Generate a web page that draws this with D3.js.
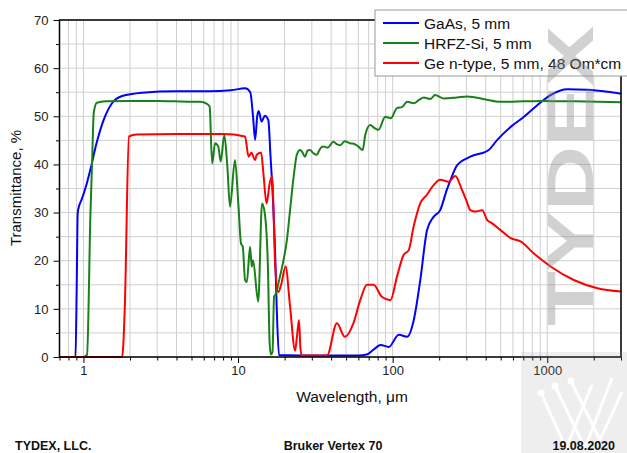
<!DOCTYPE html>
<meta charset="utf-8">
<style>
body { margin: 0; background: #fff; }
text { font-family: "Liberation Sans", Arial, sans-serif; }
.grid line { stroke: #cfcfcf; stroke-width: 1; }
.axis text { font-size: 13px; fill: #222; }
.axis path, .axis line { stroke: #000; }
.curve { fill: none; stroke-width: 2; stroke-linejoin: round; }
.foot { font-size: 12.5px; font-weight: bold; fill: #111; }
</style>
<body>
<script src="https://cdn.jsdelivr.net/npm/d3@7"></script>
<script>

var width = 627, height = 453;

// GaAs, 5 mm
var gaasWl = [0.7, 0.86, 0.888, 0.905, 0.918, 0.94, 0.97, 1.05, 1.12, 1.2, 1.35, 1.53, 1.78, 2.4, 4, 6.5, 9, 11.1, 12.0, 12.5, 12.9, 13.3, 13.6, 14.2, 14.9, 15.7, 16.2, 16.8, 17.4, 17.8, 18.4, 25, 40, 60, 68, 75, 83.5, 94.4, 109.5, 124, 137, 151, 167, 184, 203, 224, 237, 261, 318, 418, 475, 580, 707, 862, 1051, 1352, 1819, 2450, 3000];
var gaasT  = [0, 0, 0, 15, 29.9, 31.5, 32.6, 36, 39.5, 43.7, 49.2, 52.7, 54.2, 54.9, 55.2, 55.2, 55.4, 55.8, 55.0, 50, 45.1, 50, 51.1, 48.9, 50.1, 49.2, 42, 33, 21, 10, 0.4, 0.3, 0.3, 0.3, 0.5, 1.5, 2.5, 2.1, 4.6, 4.2, 7.7, 16, 26.4, 29.1, 30.5, 34.7, 36.8, 39.8, 41.6, 43, 45.1, 47.8, 49.9, 52.3, 54.4, 55.6, 55.5, 55.1, 54.7];

// HRFZ-Si, 5 mm
var siWl = [0.7, 1.0, 1.055, 1.11, 1.137, 1.166, 1.22, 1.4, 2, 3, 5.03, 5.68, 6.3, 6.55, 6.8, 7.1, 7.45, 7.72, 8.15, 8.53, 8.87, 9.55, 10.04, 10.45, 10.73, 11.1, 11.4, 11.96, 12.26, 12.5, 13.5, 14.3, 14.9, 15.6, 16.0, 16.3, 16.7, 17.1, 17.6, 18.3, 19.5, 20.7, 21.7, 22.9, 24.0, 25.2, 26.0, 27.1, 28.2, 29.2, 30.8, 32.3, 34.0, 35.6, 38, 41.4, 43.5, 45.8, 49, 53, 57, 60, 64, 66.5, 71.7, 76, 81, 89.6, 97.5, 106.6, 115, 124, 137, 148, 159, 175, 188, 215, 261, 303, 400, 497, 700, 905, 1500, 3000];
var siT  = [0, 0, 0.5, 29.9, 40.3, 50.7, 52.8, 53.1, 53.2, 53.2, 53.0, 53.0, 52.6, 52, 40.2, 44.4, 43.7, 40.6, 46.1, 39.5, 31.2, 40.9, 31.9, 23.6, 22.9, 16, 15.6, 22.9, 18.8, 20.1, 11.5, 31.9, 29.8, 18.8, 3, 0.5, 1, 12.5, 13.2, 15.5, 19.5, 24.3, 30.5, 37.5, 42, 43, 42.6, 41.6, 42.9, 43, 42.3, 42, 43.3, 43.7, 43.5, 44.7, 44.2, 44, 44.8, 44.4, 44.2, 43.7, 43, 46.1, 48.2, 47.6, 47.2, 49.9, 49.6, 51.7, 51.9, 53, 52.7, 53.4, 53.9, 53.6, 54.4, 53.7, 53.9, 54.1, 53.5, 53.0, 53.1, 53.2, 53.1, 52.9];

// Ge n-type, 5 mm, 48 Om*cm
var geWl = [0.7, 1.78, 1.85, 1.97, 2.2, 4, 8, 11.1, 11.7, 12.2, 12.9, 13.2, 14.1, 14.6, 15.3, 16.0, 16.6, 17.4, 18.2, 19.0, 20.3, 21.7, 23.4, 24.0, 24.8, 25.3, 25.8, 30, 37.6, 43.6, 49.1, 55.7, 61.7, 68.2, 75.3, 85.1, 96.7, 106.7, 117.7, 127, 136.7, 150.9, 166.7, 184, 203, 230, 254, 281, 300, 318, 343, 380, 408, 438, 497, 580, 672, 820, 1051, 1485, 2112, 3000];
var geT  = [0, 0, 10, 45.8, 46.2, 46.3, 46.3, 45.8, 41.6, 42.4, 40.9, 42.0, 42.5, 38, 31.9, 36, 37.5, 18.8, 13.5, 15, 18.8, 10.5, 1.3, 4, 7.7, 2, 0.3, 0.3, 0.3, 7.0, 4.2, 7.0, 11.8, 15, 15, 12.5, 11.8, 16.7, 21.2, 22.2, 27.1, 31.9, 33.7, 35.7, 36.8, 36.4, 37.6, 34.7, 32.5, 30.5, 30.2, 30.5, 28.5, 27.8, 26.4, 24.7, 24, 21.5, 18.8, 16, 14.3, 13.6];

var seriesNames = ["GaAs, 5 mm", "HRFZ-Si, 5 mm", "Ge n-type, 5 mm, 48 Om*cm"];
var seriesColors = ["#0000ff", "#1a801a", "#ff0000"];

var xMajor = [1, 10, 100, 1000];
var yMajor = [0, 10, 20, 30, 40, 50, 60, 70];

var series = [
  {name: seriesNames[0], color: seriesColors[0], pts: d3.zip(gaasWl, gaasT)},
  {name: seriesNames[1], color: seriesColors[1], pts: d3.zip(siWl, siT)},
  {name: seriesNames[2], color: seriesColors[2], pts: d3.zip(geWl, geT)}
];

var x = d3.scaleLog().domain([0.7, 3000]).range([59.5, 621]);
var y = d3.scaleLinear().domain([0, 70]).range([357, 20]);

// every minor tick on the log axis
var xTicks = [0.7, 0.8, 0.9];
[1, 10, 100, 1000].forEach(function(d) {
  for (var k = 1; k <= 9; k++) if (d * k <= 3000) xTicks.push(d * k);
});
var yTicks = d3.range(0, 71, 5);

var svg = d3.select("body").append("svg")
    .attr("width", width)
    .attr("height", height);

// grid
var grid = svg.append("g").attr("class", "grid");
grid.selectAll(".vx").data(xTicks).enter().append("line")
    .attr("x1", function(d) { return x(d); }).attr("x2", function(d) { return x(d); })
    .attr("y1", y(70)).attr("y2", y(0));
grid.selectAll(".hy").data(yTicks).enter().append("line")
    .attr("x1", x(0.7)).attr("x2", x(3000))
    .attr("y1", function(d) { return y(d); }).attr("y2", function(d) { return y(d); });

// curves
var line = d3.line()
    .x(function(d) { return x(d[0]); })
    .y(function(d) { return y(d[1]); })
    .curve(d3.curveMonotoneX);

svg.selectAll(".curve").data(series).enter().append("path")
    .attr("class", "curve")
    .attr("stroke", function(d) { return d.color; })
    .attr("d", function(d) { return line(d.pts); });

// frame
svg.append("rect")
    .attr("x", x(0.7)).attr("y", y(70))
    .attr("width", x(3000) - x(0.7)).attr("height", y(0) - y(70))
    .attr("fill", "none").attr("stroke", "#000").attr("stroke-width", 1.5);

// axes
var xAxis = d3.axisBottom(x).tickValues(xTicks).tickSizeOuter(0)
    .tickFormat(function(d) { return xMajor.indexOf(d) >= 0 ? d : ""; });
var gx = svg.append("g").attr("class", "axis")
    .attr("transform", "translate(0," + y(0) + ")").call(xAxis);
gx.select(".domain").remove();
gx.selectAll(".tick line").attr("y2", function(d) { return xMajor.indexOf(d) >= 0 ? 6 : 3.5; });
gx.selectAll(".tick text").attr("y", 9);

var yAxis = d3.axisLeft(y).tickValues(yTicks).tickSizeOuter(0)
    .tickFormat(function(d) { return yMajor.indexOf(d) >= 0 ? d : ""; });
var gy = svg.append("g").attr("class", "axis")
    .attr("transform", "translate(" + x(0.7) + ",0)").call(yAxis);
gy.select(".domain").remove();
gy.selectAll(".tick line").attr("x2", function(d) { return yMajor.indexOf(d) >= 0 ? -6 : -3.5; });
gy.selectAll(".tick text").attr("x", -11);

// axis titles
svg.append("text")
    .attr("x", 352).attr("y", 402)
    .attr("text-anchor", "middle").style("font-size", "15.5px").attr("fill", "#111")
    .text("Wavelength, \u03bcm");
svg.append("text")
    .attr("transform", "translate(21,188) rotate(-90)")
    .attr("text-anchor", "middle").style("font-size", "15px").attr("fill", "#111")
    .text("Transmittance, %");

// legend
var legend = svg.append("g").attr("transform", "translate(375,10)");
legend.append("rect")
    .attr("width", 260).attr("height", 66)
    .attr("fill", "#fff").attr("stroke", "#9a9a9a");
var li = legend.selectAll(".li").data(series).enter().append("g")
    .attr("transform", function(d, i) { return "translate(0," + (13 + i * 20) + ")"; });
li.append("line").attr("x1", 8).attr("x2", 44)
    .attr("stroke", function(d) { return d.color; }).attr("stroke-width", 2);
li.append("text").attr("x", 49).attr("y", 5.5)
    .style("font-size", "15.5px").attr("fill", "#111")
    .text(function(d) { return d.name; });

// watermark
svg.append("text")
    .attr("transform", "translate(593,326) rotate(-90)")
    .attr("textLength", 300).attr("lengthAdjust", "spacingAndGlyphs")
    .style("font-size", "64px").style("font-weight", "bold")
    .attr("fill", "#8c8c8c").attr("fill-opacity", 0.4)
    .text("TYDEX");

var logo = svg.append("g");
logo.append("rect").attr("x", 521).attr("y", 352).attr("width", 106).attr("height", 101)
    .attr("fill", "#9a9a9a").attr("fill-opacity", 0.17);
var logoLines = [[541, 393, 566, 448], [555, 386, 585, 448], [571, 381, 600, 440],
                 [566, 448, 592, 385], [585, 448, 612, 378], [600, 440, 622, 392]];
logo.selectAll(".ll").data(logoLines).enter().append("line")
    .attr("x1", function(d) { return d[0]; }).attr("y1", function(d) { return d[1]; })
    .attr("x2", function(d) { return d[2]; }).attr("y2", function(d) { return d[3]; })
    .attr("stroke", "#fff").attr("stroke-width", 3);
logo.selectAll(".lc").data(logoLines.slice(0, 3)).enter().append("circle")
    .attr("cx", function(d) { return d[0]; }).attr("cy", function(d) { return d[1]; })
    .attr("r", 3.5).attr("fill", "#fff");

// footer
svg.append("text").attr("class", "foot").attr("x", 15).attr("y", 450).text("TYDEX, LLC.");
svg.append("text").attr("class", "foot").attr("x", 333).attr("y", 450)
    .attr("text-anchor", "middle").text("Bruker Vertex 70");
svg.append("text").attr("class", "foot").attr("x", 615).attr("y", 450)
    .attr("text-anchor", "end").text("19.08.2020");

</script>
</body>
